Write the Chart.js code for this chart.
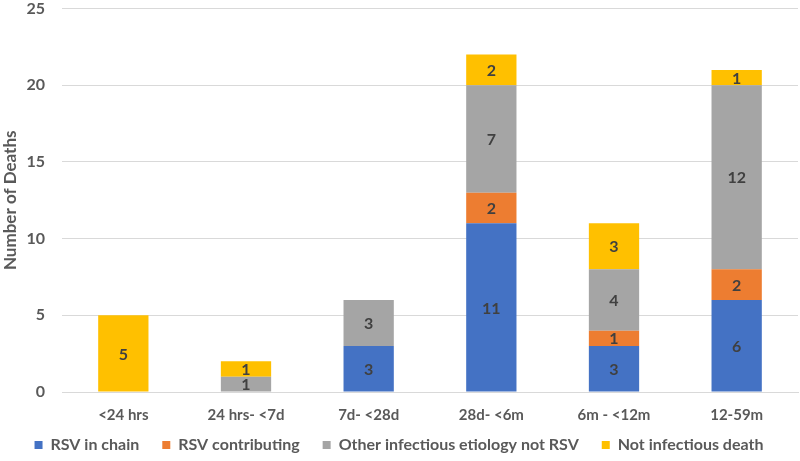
<!DOCTYPE html>
<html>
<head>
<meta charset="utf-8">
<script src="https://cdn.jsdelivr.net/npm/chart.js@4"></script>
<style>
  html, body { margin: 0; padding: 0; background: #fff; overflow: hidden; }
  /* canvas is a bit taller and pulled up so the top tick sits near the edge like the original */
  #wrap { position: relative; width: 800px; height: 479px; top: -18px; }
</style>
</head>
<body>
<div id="wrap"><canvas id="deathsChart"></canvas></div>
<script>
// Age groups and death counts per cause
const ageGroups = ['<24 hrs', '24 hrs- <7d', '7d- <28d', '28d- <6m', '6m - <12m', '12-59m'];
const rsvInChain = [0, 0, 3, 11, 3, 6];
const rsvContributing = [0, 0, 0, 2, 1, 2];
const otherInfectious = [0, 1, 3, 7, 4, 12];
const notInfectious = [5, 1, 0, 2, 3, 1];
const yTicks = [0, 5, 10, 15, 20, 25];

const FONT = 'Lato, "Open Sans", sans-serif';
const LEGEND_TRIM = 26;

// draw the count in the middle of each segment
const barLabels = {
    id: 'barLabels',
    afterDatasetsDraw(chart) {
        const ctx = chart.ctx;
        ctx.save();
        ctx.font = 'bold 16px ' + FONT;
        ctx.fillStyle = '#404040';
        ctx.textAlign = 'center';
        ctx.textBaseline = 'middle';
        chart.data.datasets.forEach((ds, i) => {
            chart.getDatasetMeta(i).data.forEach((bar, j) => {
                const v = ds.data[j];
                if (!v) return;
                ctx.fillText(v, bar.x, (bar.y + bar.base) / 2 + 1);
            });
        });
        ctx.restore();
    }
};

// legend keeps wide horizontal gaps but takes less vertical room
const legendTrim = {
    id: 'legendTrim',
    beforeLayout(chart) {
        const lg = chart.legend;
        if (lg && !lg._trimmed) {
            const fit = lg.fit.bind(lg);
            lg.fit = function () { fit(); this.height -= LEGEND_TRIM; };
            lg._trimmed = true;
        }
    },
    afterLayout(chart) {
        const lg = chart.legend;
        lg.top -= LEGEND_TRIM - 2;
        lg.height = lg.bottom - lg.top;
    }
};

new Chart(document.getElementById('deathsChart'), {
    type: 'bar',
    data: {
        labels: ageGroups,
        datasets: [
            { label: 'RSV in chain', data: rsvInChain, backgroundColor: '#4472C4' },
            { label: 'RSV contributing', data: rsvContributing, backgroundColor: '#ED7D31' },
            { label: 'Other infectious etiology not RSV', data: otherInfectious, backgroundColor: '#A5A5A5' },
            { label: 'Not infectious death', data: notInfectious, backgroundColor: '#FFC000' }
        ]
    },
    options: {
        responsive: true, maintainAspectRatio: false, animation: false,
        layout: { padding: { top: 0, right: 2, left: 0, bottom: 0 } },
        datasets: { bar: { barPercentage: 0.41, categoryPercentage: 1 } },
        plugins: {
            tooltip: { enabled: false },
            legend: {
                position: 'bottom',
                labels: {
                    color: '#595959', font: { family: FONT, size: 16, weight: 'bold' },
                    boxWidth: 8, boxHeight: 8, padding: 23
                }
            }
        },
        scales: {
            x: {
                stacked: true,
                grid: { display: false, drawTicks: false },
                border: { color: '#d9d9d9' },
                ticks: { color: '#595959', font: { family: FONT, size: 15, weight: 'bold' }, padding: 14 }
            },
            y: {
                stacked: true, min: 0, max: 25,
                afterBuildTicks: axis => { axis.ticks = yTicks.map(v => ({ value: v })); },
                afterFit: axis => { axis.width = 62; },
                grid: { color: '#d9d9d9', drawTicks: false },
                border: { display: false },
                ticks: { color: '#595959', font: { family: FONT, size: 16, weight: 'bold' }, padding: 17 },
                title: {
                    display: true, text: 'Number of Deaths', color: '#595959',
                    font: { family: FONT, size: 17, weight: 'bold' }, padding: 0
                }
            }
        }
    },
    plugins: [barLabels, legendTrim]
});
</script>
</body>
</html>
